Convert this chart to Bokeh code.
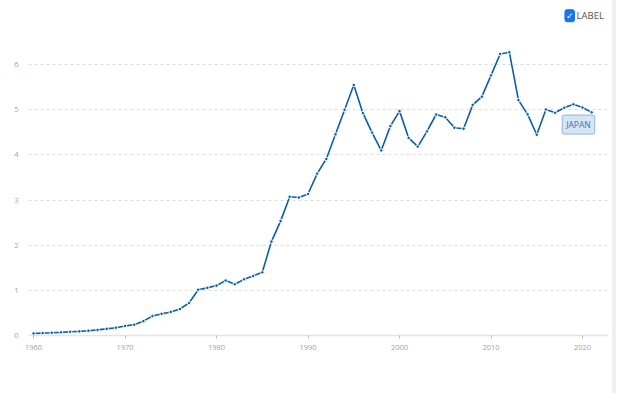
from bokeh.plotting import figure
from bokeh.models import Label, FixedTicker, Range1d, Div, ColumnDataSource
from bokeh.layouts import row
from bokeh.embed import file_html
from bokeh.resources import INLINE

years = list(range(1960, 2022))
gdp = [0.044, 0.053, 0.061, 0.070, 0.082, 0.091, 0.106, 0.124, 0.147, 0.172,
       0.212, 0.240, 0.318, 0.432, 0.479, 0.521, 0.586, 0.721, 1.014, 1.055,
       1.105, 1.218, 1.134, 1.243, 1.319, 1.399, 2.079, 2.533, 3.071, 3.054,
       3.133, 3.584, 3.909, 4.454, 4.998, 5.546, 4.923, 4.492, 4.098, 4.636,
       4.968, 4.375, 4.182, 4.519, 4.893, 4.831, 4.601, 4.579, 5.106, 5.289,
       5.759, 6.233, 6.272, 5.212, 4.897, 4.445, 5.004, 4.931, 5.041, 5.118,
       5.048, 4.941]
x_ticks = [1960, 1970, 1980, 1990, 2000, 2010, 2020]
y_ticks = [0, 1, 2, 3, 4, 5, 6]
series_name = "JAPAN"
legend_label = "LABEL"

BLUE = "#0b5fa5"
FONT = "Open Sans"

src = ColumnDataSource(dict(year=years, gdp=gdp))

p = figure(width=612, height=393, output_backend="svg", toolbar_location=None,
           x_range=Range1d(1959.45, 2022.84), y_range=Range1d(0, 7.24),
           min_border_left=28, min_border_right=4, min_border_top=8,
           min_border_bottom=58)
p.outline_line_color = None
p.background_fill_color = "white"
p.border_fill_color = "white"

p.line("year", "gdp", source=src, line_color=BLUE, line_width=1.6)
p.scatter("year", "gdp", source=src, size=3.5, fill_color=BLUE,
          line_color="white", line_width=1)

# axes
p.xaxis.ticker = FixedTicker(ticks=x_ticks)
p.yaxis.ticker = FixedTicker(ticks=y_ticks)
p.xaxis.axis_line_color = "#e4e4e4"
p.xaxis.axis_line_width = 1.5
p.xaxis.major_tick_line_color = "#bbbbbb"
p.xaxis.major_tick_in = 0
p.xaxis.major_tick_out = 3
p.xaxis.major_label_standoff = 6
p.yaxis.axis_line_color = None
p.yaxis.major_tick_line_color = None
p.yaxis.major_tick_out = 0
p.yaxis.major_tick_in = 0
p.yaxis.major_label_standoff = 10
for ax in (p.xaxis, p.yaxis):
    ax.major_label_text_font = FONT
    ax.major_label_text_font_size = "7.5px"
    ax.major_label_text_color = "#a3a3a3"

p.xgrid.grid_line_color = None
p.ygrid.grid_line_color = "#dddddd"
p.ygrid.grid_line_dash = "3 3"
p.ygrid.grid_line_width = 1

# legend-like checkbox + label (top right)
p.add_layout(Label(x=2018.6, y=7.08, text="✓", text_font="DejaVu Sans",
                   text_font_size="9px", text_color="white", text_font_style="bold",
                   text_align="center", text_baseline="middle",
                   background_fill_color="#1a73e8", border_line_color="#1a73e8",
                   padding=1, border_radius=2))
p.add_layout(Label(x=2019.35, y=7.08, text=legend_label, text_font=FONT,
                   text_font_size="9.5px", text_color="#555555",
                   text_align="left", text_baseline="middle"))

# series end label
p.add_layout(Label(x=2019.56, y=4.67, text=series_name, text_font=FONT,
                   text_font_size="8.5px", text_color="#3c74ad",
                   text_align="center", text_baseline="middle",
                   background_fill_color="#d5e5f5", border_line_color="#8fb5da",
                   padding=4, border_radius=2))

band = Div(text='<div style="width:4px;height:393px;background:#efefef;"></div>',
           width=4, height=393, margin=0)
layout = row(p, band)

open("out.html", "w").write(file_html(layout, INLINE))
